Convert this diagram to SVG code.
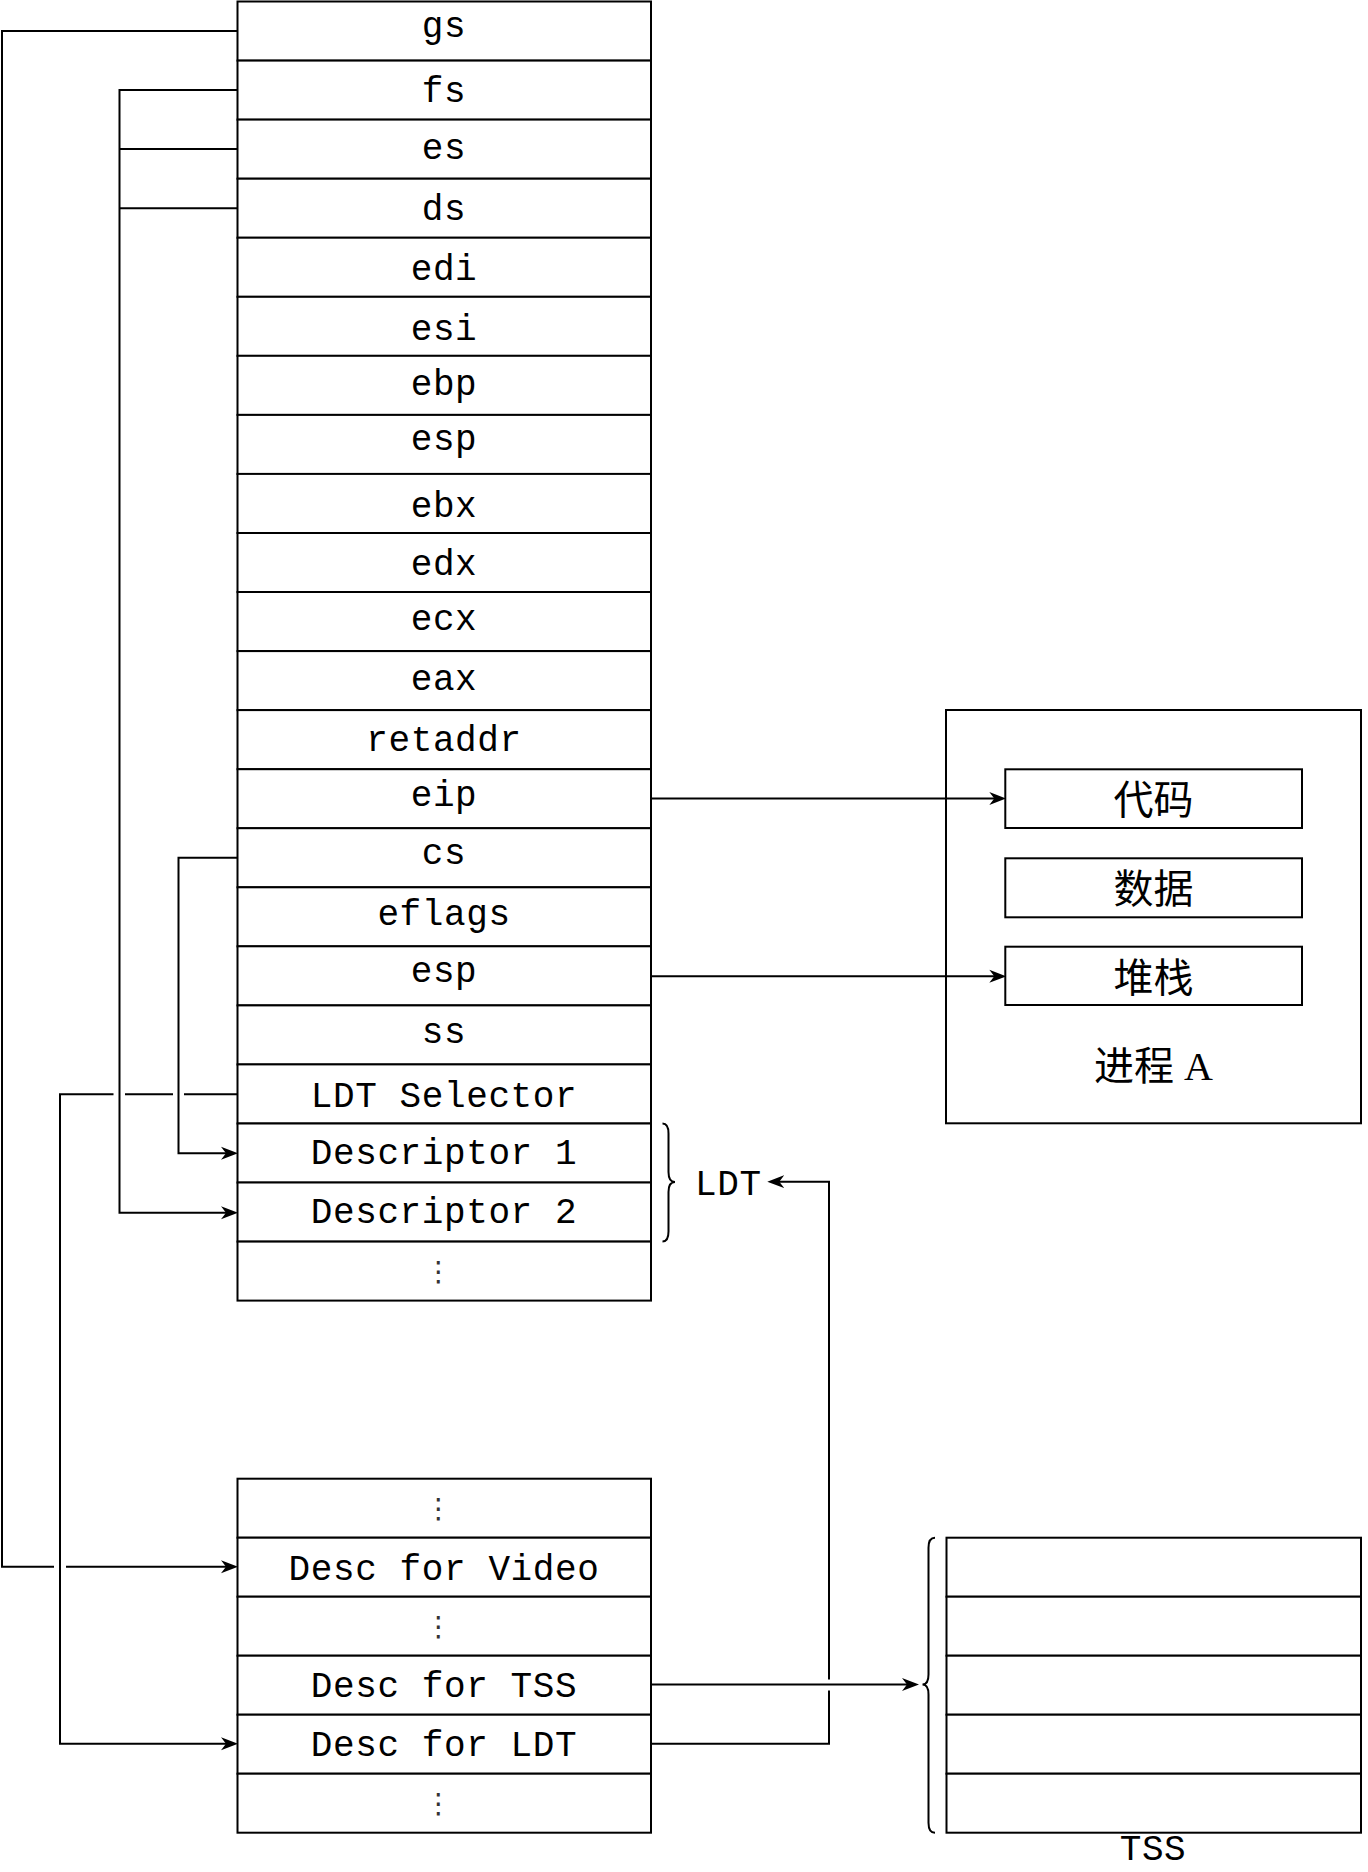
<svg xmlns="http://www.w3.org/2000/svg" width="1368" height="1872" viewBox="0 0 1368 1872">
<style>
.box{fill:#fff;stroke:#000;stroke-width:2}
.mono{font-family:"Liberation Mono","DejaVu Sans Mono",monospace;font-size:36px;letter-spacing:0.6px;text-anchor:middle;fill:#000}
.lbl{font-family:"Liberation Mono","DejaVu Sans Mono",monospace;font-size:36px;letter-spacing:0.6px;fill:#000}
.cjk{font-family:"Liberation Serif","Noto Sans CJK SC",serif;font-size:40px;text-anchor:middle;fill:#000}
.dots{font-family:"DejaVu Sans",sans-serif;font-size:28px;text-anchor:middle;fill:#333}
.edge{fill:none;stroke:#000;stroke-width:2}
</style>
<defs>
<marker id="arr" markerUnits="userSpaceOnUse" markerWidth="17" markerHeight="14" viewBox="0 0 17 14" refX="12" refY="7" orient="auto">
<path d="M17,7 L0,0.5 L5,7 L0,13.5 Z" fill="#000"/>
</marker>
</defs>
<rect width="1368" height="1872" fill="#fff"/>

<g id="stack">
<g id="r-gs"><rect class="box" x="237.5" y="1.5" width="413.5" height="59.1"/><text class="mono" x="444" y="37">gs</text></g>
<g id="r-fs"><rect class="box" x="237.5" y="60.6" width="413.5" height="59.1"/><text class="mono" x="444" y="102">fs</text></g>
<g id="r-es"><rect class="box" x="237.5" y="119.6" width="413.5" height="59.1"/><text class="mono" x="444" y="158.5">es</text></g>
<g id="r-ds"><rect class="box" x="237.5" y="178.7" width="413.5" height="59.1"/><text class="mono" x="444" y="220">ds</text></g>
<g id="r-edi"><rect class="box" x="237.5" y="237.7" width="413.5" height="59.1"/><text class="mono" x="444" y="280">edi</text></g>
<g id="r-esi"><rect class="box" x="237.5" y="296.8" width="413.5" height="59.1"/><text class="mono" x="444" y="340">esi</text></g>
<g id="r-ebp"><rect class="box" x="237.5" y="355.8" width="413.5" height="59.1"/><text class="mono" x="444" y="395">ebp</text></g>
<g id="r-esp1"><rect class="box" x="237.5" y="414.9" width="413.5" height="59.1"/><text class="mono" x="444" y="450">esp</text></g>
<g id="r-ebx"><rect class="box" x="237.5" y="473.9" width="413.5" height="59.1"/><text class="mono" x="444" y="517">ebx</text></g>
<g id="r-edx"><rect class="box" x="237.5" y="533.0" width="413.5" height="59.1"/><text class="mono" x="444" y="575">edx</text></g>
<g id="r-ecx"><rect class="box" x="237.5" y="592.0" width="413.5" height="59.1"/><text class="mono" x="444" y="630">ecx</text></g>
<g id="r-eax"><rect class="box" x="237.5" y="651.1" width="413.5" height="59.1"/><text class="mono" x="444" y="690">eax</text></g>
<g id="r-retaddr"><rect class="box" x="237.5" y="710.1" width="413.5" height="59.1"/><text class="mono" x="444" y="751">retaddr</text></g>
<g id="r-eip"><rect class="box" x="237.5" y="769.2" width="413.5" height="59.1"/><text class="mono" x="444" y="806">eip</text></g>
<g id="r-cs"><rect class="box" x="237.5" y="828.2" width="413.5" height="59.1"/><text class="mono" x="444" y="863.5">cs</text></g>
<g id="r-eflags"><rect class="box" x="237.5" y="887.3" width="413.5" height="59.1"/><text class="mono" x="444" y="924.5">eflags</text></g>
<g id="r-esp2"><rect class="box" x="237.5" y="946.3" width="413.5" height="59.1"/><text class="mono" x="444" y="982">esp</text></g>
<g id="r-ss"><rect class="box" x="237.5" y="1005.4" width="413.5" height="59.1"/><text class="mono" x="444" y="1043">ss</text></g>
<g id="r-ldtsel"><rect class="box" x="237.5" y="1064.4" width="413.5" height="59.1"/><text class="mono" x="444" y="1106.5">LDT Selector</text></g>
<g id="r-desc1"><rect class="box" x="237.5" y="1123.5" width="413.5" height="59.1"/><text class="mono" x="444" y="1163.5">Descriptor 1</text></g>
<g id="r-desc2"><rect class="box" x="237.5" y="1182.5" width="413.5" height="59.1"/><text class="mono" x="444" y="1222.5">Descriptor 2</text></g>
<g id="r-more1"><rect class="box" x="237.5" y="1241.6" width="413.5" height="59.0"/><text class="dots" x="438.5" y="1281">⋮</text></g>
</g>

<g id="ldt-brace">
<path class="edge" d="M662.5,1123.5 Q668.5,1123.5 668.5,1133.5 V1172 Q668.5,1182 675,1182 Q668.5,1182 668.5,1192 V1231.5 Q668.5,1241.5 662.5,1241.5"/>
<text class="lbl" x="695" y="1195">LDT</text>
</g>

<g id="process">
<rect class="box" x="946" y="710" width="415" height="413.3"/>
<g id="p-code"><rect class="box" x="1005.3" y="769.3" width="296.7" height="58.7"/><text class="cjk" x="1153.5" y="813.5">代码</text></g>
<g id="p-data"><rect class="box" x="1005.3" y="858.3" width="296.7" height="59"/><text class="cjk" x="1153.5" y="902.5">数据</text></g>
<g id="p-stack"><rect class="box" x="1005.3" y="946.7" width="296.7" height="58.3"/><text class="cjk" x="1153.5" y="991.5">堆栈</text></g>
<text class="cjk" x="1153.5" y="1080">进程 A</text>
</g>

<g id="gdt">
<g id="g-more1"><rect class="box" x="237.5" y="1478.7" width="413.5" height="59"/><text class="dots" x="438.5" y="1518">⋮</text></g>
<g id="g-video"><rect class="box" x="237.5" y="1537.7" width="413.5" height="59"/><text class="mono" x="444" y="1580">Desc for Video</text></g>
<g id="g-more2"><rect class="box" x="237.5" y="1596.7" width="413.5" height="59"/><text class="dots" x="438.5" y="1636">⋮</text></g>
<g id="g-tss"><rect class="box" x="237.5" y="1655.7" width="413.5" height="59"/><text class="mono" x="444" y="1697">Desc for TSS</text></g>
<g id="g-ldt"><rect class="box" x="237.5" y="1714.7" width="413.5" height="59"/><text class="mono" x="444" y="1756">Desc for LDT</text></g>
<g id="g-more3"><rect class="box" x="237.5" y="1773.7" width="413.5" height="59"/><text class="dots" x="438.5" y="1813">⋮</text></g>
</g>

<g id="tss">
<rect class="box" x="946.5" y="1537.7" width="414.5" height="59"/>
<rect class="box" x="946.5" y="1596.7" width="414.5" height="59"/>
<rect class="box" x="946.5" y="1655.7" width="414.5" height="59"/>
<rect class="box" x="946.5" y="1714.7" width="414.5" height="59"/>
<rect class="box" x="946.5" y="1773.7" width="414.5" height="59"/>
<path class="edge" d="M935,1537.7 Q928.5,1537.7 928.5,1547.7 V1674.5 Q928.5,1684.5 922.5,1684.5 Q928.5,1684.5 928.5,1694.5 V1822.7 Q928.5,1832.7 935,1832.7"/>
<text class="mono" x="1153" y="1860">TSS</text>
</g>

<g id="connectors">
<path class="edge" marker-end="url(#arr)" d="M237.5,31 H2 V1566.8 H54 M66,1566.8 H233"/>
<path class="edge" marker-end="url(#arr)" d="M237.5,90.1 H119.5 V1212.7 H233"/>
<path class="edge" d="M237.5,149.1 H119.5"/>
<path class="edge" d="M237.5,208.2 H119.5"/>
<path class="edge" marker-end="url(#arr)" d="M237.5,857.7 H178.5 V1153.3 H233"/>
<path class="edge" marker-end="url(#arr)" d="M237.5,1094.3 H184 M173,1094.3 H125 M113.5,1094.3 H60 V1743.7 H233"/>
<path class="edge" marker-end="url(#arr)" d="M651,798.5 H1001.3"/>
<path class="edge" marker-end="url(#arr)" d="M651,976.3 H1001.3"/>
<path class="edge" marker-end="url(#arr)" d="M651.5,1684.5 H914"/>
<path class="edge" marker-end="url(#arr)" d="M651.5,1743.7 H829 V1690.5 M829,1679.5 V1181.7 H772.3"/>
</g>
</svg>
